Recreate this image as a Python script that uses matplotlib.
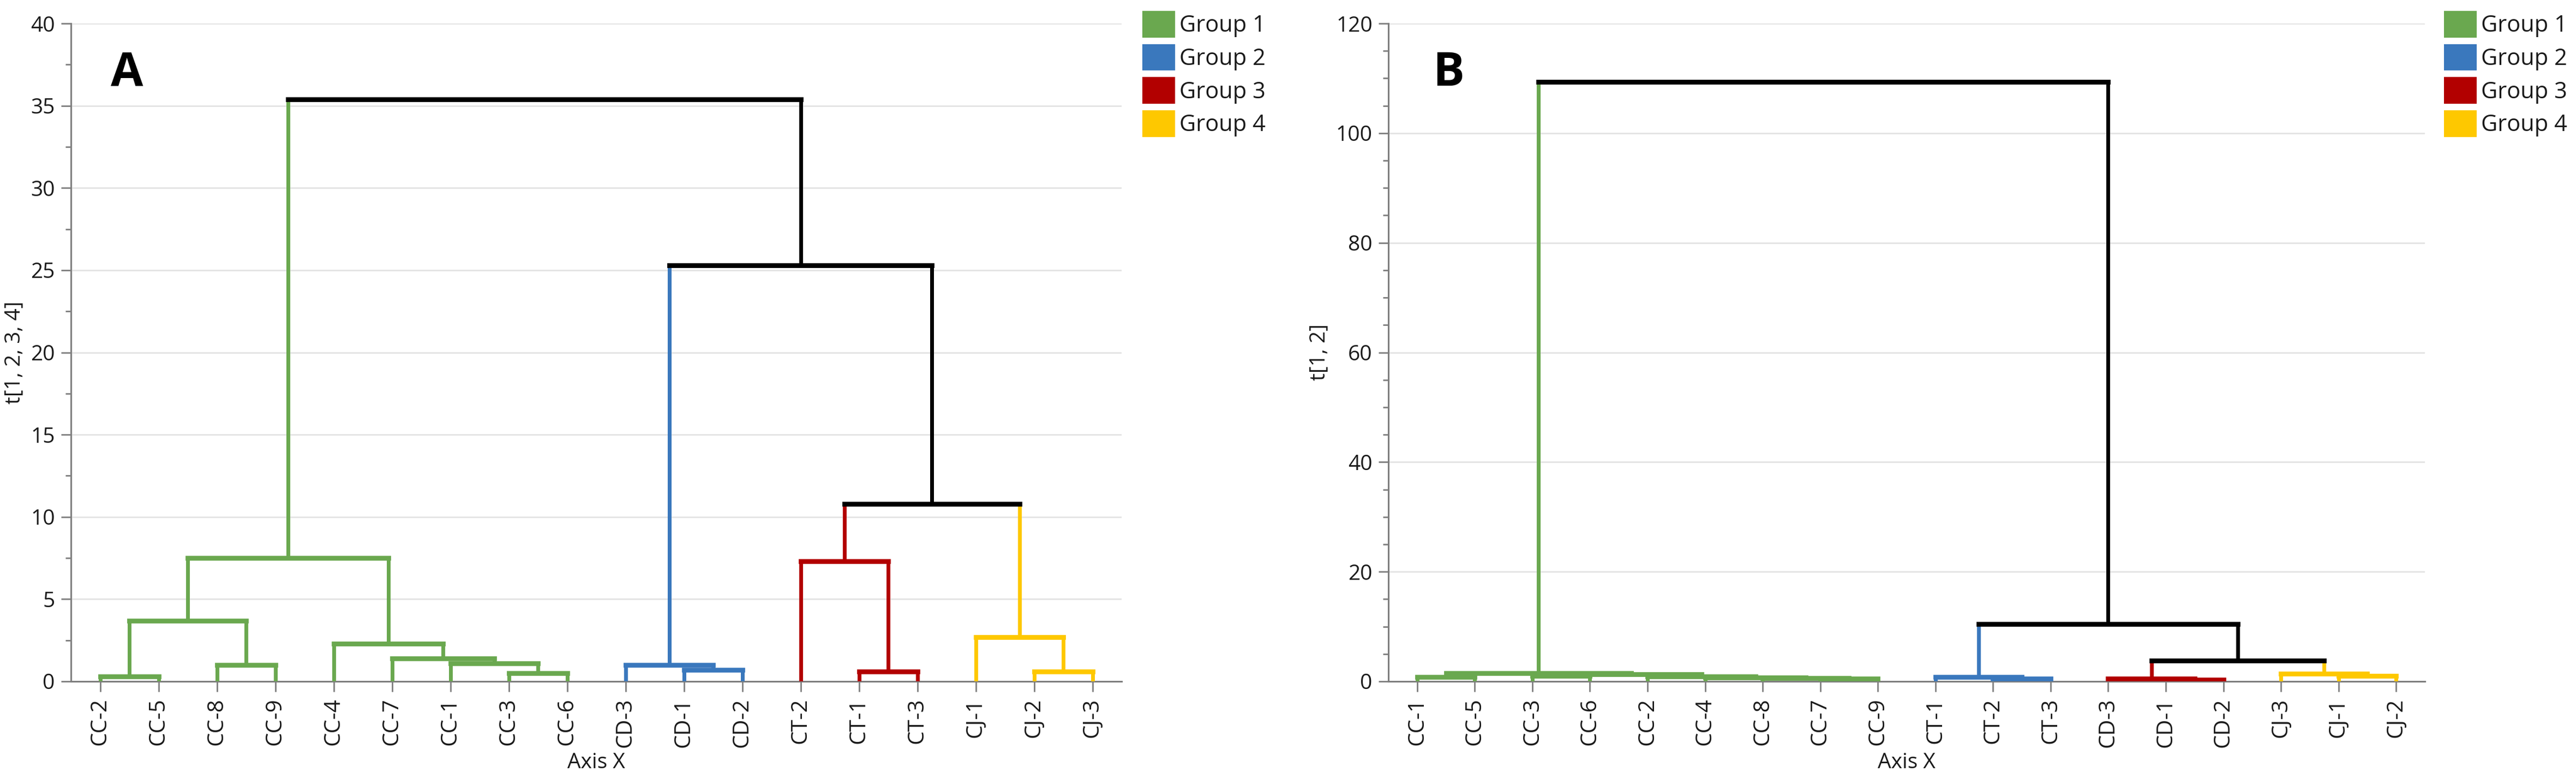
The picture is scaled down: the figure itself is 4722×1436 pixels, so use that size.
import matplotlib
matplotlib.use('Agg')
import matplotlib.pyplot as plt
from matplotlib.patches import Patch
from matplotlib.ticker import MultipleLocator

plt.rcParams['font.family'] = ['Open Sans', 'DejaVu Sans']

# ---------------- data ----------------
group_names = ['Group 1', 'Group 2', 'Group 3', 'Group 4']
group_colors = ['#6aa84f', '#3a78bd', '#b20000', '#fec800']
link_color = '#000000'

# Panel A: leaves in display order, group index per leaf
labels_a = ['CC-2', 'CC-5', 'CC-8', 'CC-9', 'CC-4', 'CC-7', 'CC-1', 'CC-3', 'CC-6',
            'CD-3', 'CD-1', 'CD-2', 'CT-2', 'CT-1', 'CT-3', 'CJ-1', 'CJ-2', 'CJ-3']
groups_a = [0, 0, 0, 0, 0, 0, 0, 0, 0, 1, 1, 1, 2, 2, 2, 3, 3, 3]
# merges: (child a, child b, height); index < 18 -> leaf, 18 + k -> k-th merge
merge_a_left = [0, 2, 18, 7, 6, 5, 4, 20, 10, 9, 13, 12, 16, 15, 29, 27, 25]
merge_a_right = [1, 3, 19, 8, 21, 22, 23, 24, 11, 26, 14, 28, 17, 30, 31, 32, 33]
merge_a_height = [0.3, 1.0, 3.7, 0.5, 1.1, 1.4, 2.3, 7.5, 0.7, 1.0, 0.6, 7.3, 0.6, 2.7, 10.8, 25.3, 35.4]

# Panel B
labels_b = ['CC-1', 'CC-5', 'CC-3', 'CC-6', 'CC-2', 'CC-4', 'CC-8', 'CC-7', 'CC-9',
            'CT-1', 'CT-2', 'CT-3', 'CD-3', 'CD-1', 'CD-2', 'CJ-3', 'CJ-1', 'CJ-2']
groups_b = [0, 0, 0, 0, 0, 0, 0, 0, 0, 1, 1, 1, 2, 2, 2, 3, 3, 3]
merge_b_left = [0, 2, 7, 6, 5, 4, 19, 18, 10, 9, 13, 12, 16, 15, 29, 27, 25]
merge_b_right = [1, 3, 8, 20, 21, 22, 23, 24, 11, 26, 14, 28, 17, 30, 31, 32, 33]
merge_b_height = [0.8, 1.0, 0.5, 0.6, 0.7, 0.9, 1.3, 1.5, 0.5, 0.8, 0.3, 0.5, 1.0, 1.4, 3.8, 10.5, 109.3]

# ---------------- drawing ----------------
W, H = 4722, 1436
fig = plt.figure(figsize=(W / 100, H / 100), dpi=100)

VLW = 5.0
HLW = 6.3
AXC = '#7f7f7f'
TXT = '#1a1a1a'


def draw_dendrogram(ax, labels, groups, lefts, rights, heights):
    n = len(labels)
    xpos = {i: float(i) for i in range(n)}
    hgt = {i: 0.0 for i in range(n)}
    grp = {i: groups[i] for i in range(n)}
    for k, (a, b, h) in enumerate(zip(lefts, rights, heights)):
        node = n + k
        ga, gb = grp[a], grp[b]
        g = ga if ga == gb else None
        ca = group_colors[ga] if ga is not None else link_color
        cb = group_colors[gb] if gb is not None else link_color
        cn = group_colors[g] if g is not None else link_color
        ax.plot([xpos[a], xpos[a]], [hgt[a], h], color=ca, lw=VLW,
                solid_capstyle='butt', zorder=3)
        ax.plot([xpos[b], xpos[b]], [hgt[b], h], color=cb, lw=VLW,
                solid_capstyle='butt', zorder=3)
        ax.plot([xpos[a], xpos[b]], [h, h], color=cn, lw=HLW,
                solid_capstyle='projecting', zorder=4)
        xpos[node] = (xpos[a] + xpos[b]) / 2
        hgt[node] = h
        grp[node] = g


def style_axes(ax, labels, ymax, major, minor, ylabel):
    ax.set_xlim(-0.5, len(labels) - 0.5)
    ax.set_ylim(0, ymax)
    ax.set_xticks(range(len(labels)))
    ax.set_xticklabels(labels, rotation=90, fontsize=29, color=TXT)
    ax.yaxis.set_major_locator(MultipleLocator(major))
    ax.yaxis.set_minor_locator(MultipleLocator(minor))
    ax.tick_params(axis='y', which='major', length=13, width=2, color=AXC,
                   labelsize=28, labelcolor=TXT, pad=8)
    ax.tick_params(axis='y', which='minor', length=7, width=2, color=AXC)
    ax.tick_params(axis='x', which='major', length=14, width=2, color=AXC,
                   labelsize=29, labelcolor=TXT, pad=8)
    for s in ['top', 'right']:
        ax.spines[s].set_visible(False)
    for s in ['left', 'bottom']:
        ax.spines[s].set_color(AXC)
        ax.spines[s].set_linewidth(2.2)
    ax.yaxis.grid(True, which='major', color='#e3e3e3', lw=2)
    ax.set_axisbelow(True)
    ax.set_xlabel('Axis X', fontsize=28, color=TXT, labelpad=6)
    ax.set_ylabel(ylabel, fontsize=28, color=TXT, labelpad=8)


def add_legend(x_px, y_px):
    handles = [Patch(facecolor=c, edgecolor='none') for c in group_colors]
    fig.legend(handles, group_names, loc='upper left',
               bbox_to_anchor=(x_px / W, 1 - y_px / H), frameon=False,
               fontsize=30, handlelength=1.44, handleheight=1.42,
               handletextpad=0.2, labelspacing=0.29, borderpad=0,
               borderaxespad=0, labelcolor=TXT)


axA = fig.add_axes([130 / W, 1 - 1248 / H, (2056 - 130) / W, (1248 - 43) / H])
draw_dendrogram(axA, labels_a, groups_a, merge_a_left, merge_a_right, merge_a_height)
style_axes(axA, labels_a, 40, 5, 2.5, 't[1, 2, 3, 4]')
axA.text(0.038, 0.905, 'A', transform=axA.transAxes, fontsize=62,
         fontweight='bold', ha='left', va='baseline', color='black')
add_legend(2094, 20)

axB = fig.add_axes([2545 / W, 1 - 1248 / H, (4445 - 2545) / W, (1248 - 43) / H])
draw_dendrogram(axB, labels_b, groups_b, merge_b_left, merge_b_right, merge_b_height)
style_axes(axB, labels_b, 120, 20, 5, 't[1, 2]')
axB.text(0.043, 0.905, 'B', transform=axB.transAxes, fontsize=62,
         fontweight='bold', ha='left', va='baseline', color='black')
add_legend(4480, 20)

fig.savefig('out.png', dpi=100)
